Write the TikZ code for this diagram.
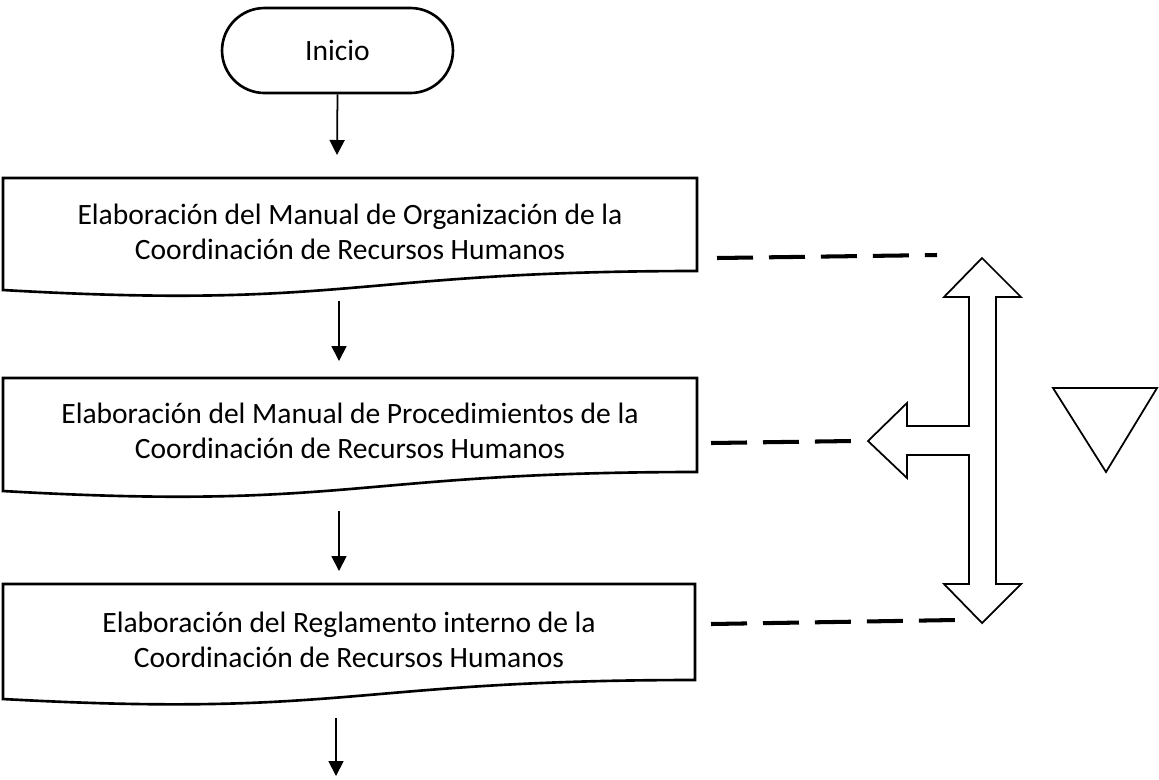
\documentclass[tikz,border=0pt]{standalone}
\usepackage{fontspec}
\setmainfont{Carlito}
\usetikzlibrary{arrows.meta}
\tikzset{
  docbox/.style={draw=black, line width=1.5pt, fill=white},
  boxtext/.style={align=center, font=\fontsize{16.8}{20}\selectfont, inner sep=0pt},
  flow/.style={line width=1pt, -{Triangle[width=0.3cm,length=0.3cm]}},
  dashlink/.style={line width=2.3pt, dash pattern=on 0.72cm off 0.32cm},
  outline/.style={draw=black, line width=1pt, line join=miter, fill=white}
}
\begin{document}
\begin{tikzpicture}[x=0.02cm, y=-0.02cm]
\useasboundingbox (0,0) rectangle (1159,779);

% start terminal
\node[draw, line width=1.5pt, minimum width=4.62cm, minimum height=1.7cm,
      rounded corners=0.85cm, font=\fontsize{16.8}{20}\selectfont]
      (inicio) at (337.5,50.5) {Inicio};

% document boxes
\draw[docbox] (3,178) -- (697,178) -- (697,271)
   .. controls (350,271) and (350,310) .. (3,290) -- cycle;
\node[boxtext] (doc1) at (350,232) {Elaboración del Manual de Organización de la\\Coordinación de Recursos Humanos};

\draw[docbox] (3,378) -- (697,378) -- (697,472)
   .. controls (350,472) and (350,511) .. (3,491) -- cycle;
\node[boxtext] (doc2) at (350,431) {Elaboración del Manual de Procedimientos de la\\Coordinación de Recursos Humanos};

\draw[docbox] (3,584) -- (695,584) -- (695,680)
   .. controls (349,680) and (349,718) .. (3,699) -- cycle;
\node[boxtext] (doc3) at (349,640) {Elaboración del Reglamento interno de la\\Coordinación de Recursos Humanos};

% flow arrows
\coordinate (a1e) at (337,155);
\coordinate (a2s) at (339,301);
\coordinate (a2e) at (339,361);
\coordinate (a3s) at (339,511);
\coordinate (a3e) at (339,571);
\coordinate (a4s) at (336,718);
\coordinate (a4e) at (336,776);
\draw[flow] (inicio.south) -- (a1e);
\draw[flow] (a2s) -- (a2e);
\draw[flow] (a3s) -- (a3e);
\draw[flow] (a4s) -- (a4e);

% triple block arrow
\draw[outline] (982,258) -- (1021,297) -- (996,297) -- (996,584) -- (1021,584)
  -- (982,623) -- (944,584) -- (969,584) -- (969,455) -- (907,455) -- (907,478)
  -- (868,441) -- (907,403) -- (907,426) -- (969,426) -- (969,297) -- (944,297) -- cycle;
\coordinate (tipTop) at (937,255);
\coordinate (tipMid) at (852,441);
\coordinate (tipBot) at (955,620);

% dashed links
\coordinate (d1s) at (717,258);
\coordinate (d2s) at (711,443);
\coordinate (d3s) at (711,624);
\draw[dashlink] (d1s) -- (tipTop);
\draw[dashlink] (d2s) -- (tipMid);
\draw[dashlink] (d3s) -- (tipBot);

% triangle
\draw[outline] (1053,388) -- (1157,388) -- (1106,472) -- cycle;
\end{tikzpicture}
\end{document}
